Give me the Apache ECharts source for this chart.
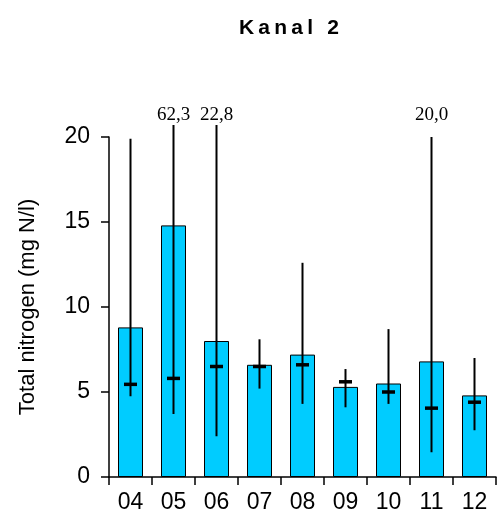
<!DOCTYPE html>
<html>
<head>
<meta charset="utf-8">
<script src="https://cdn.jsdelivr.net/npm/echarts@6/dist/echarts.min.js"></script>
<style>html,body{margin:0;padding:0;background:#fff;}#c{width:501px;height:520px;}</style>
</head>
<body>
<div id="c"></div>
<script>
// Data
const categories = ['04', '05', '06', '07', '08', '09', '10', '11', '12'];
const means      = [8.8, 14.8, 8.0, 6.6, 7.2, 5.3, 5.5, 6.8, 4.8];
const medians    = [5.45, 5.8, 6.5, 6.5, 6.6, 5.6, 5.0, 4.05, 4.4];
const mins       = [4.75, 3.7, 2.4, 5.2, 4.3, 4.1, 4.3, 1.45, 2.75];
const maxs       = [19.9, 62.3, 22.8, 8.1, 12.6, 6.35, 8.7, 20.0, 7.0];
const yTicks     = [0, 5, 10, 15, 20];

const yMin = yTicks[0], yMax = yTicks[yTicks.length - 1];
const whiskerCap = 20.7;   // whiskers of off-scale values are cut here
const labelLevel = 21.3;   // level of the off-scale value labels

const fmt = v => v.toFixed(1).replace('.', ',');
const sans = 'Liberation Sans, Arial';

const chart = echarts.init(document.getElementById('c'), null, {renderer: 'canvas'});
chart.setOption({
  animation: false,
  backgroundColor: '#fff',
  title: {
    text: 'K\u2009a\u2009n\u2009a\u2009l\u2009 \u20092',
    left: 234, top: 13,
    textStyle: {fontFamily: sans, fontSize: 21, fontWeight: 'bold', color: '#000'}
  },
  grid: {left: 109, right: 5, top: 137, bottom: 43, containLabel: false, outerBoundsMode: 'none'},
  xAxis: {
    type: 'category',
    data: categories,
    axisLine: {lineStyle: {color: '#000', width: 1.5}},
    axisTick: {show: true, length: 8, lineStyle: {color: '#000', width: 1.5}},
    axisLabel: {color: '#000', fontFamily: sans, fontSize: 23, margin: 14}
  },
  yAxis: {
    type: 'value',
    min: yMin, max: yMax, interval: 5,
    name: 'Total nitrogen (mg N/l)',
    nameLocation: 'middle',
    nameGap: 70,
    nameTextStyle: {color: '#000', fontFamily: sans, fontSize: 22},
    axisLine: {show: true, lineStyle: {color: '#000', width: 1.5}},
    axisTick: {show: true, length: 8, lineStyle: {color: '#000', width: 1.5}},
    splitLine: {show: false},
    axisLabel: {color: '#000', fontFamily: sans, fontSize: 23, margin: 19}
  },
  series: [
    {
      type: 'bar',
      data: means,
      barWidth: 25,
      itemStyle: {color: '#00CCFF', borderColor: '#000', borderWidth: 1}
    },
    {
      type: 'custom',
      clip: false,
      z: 5,
      encode: {x: 0, y: [1, 2, 3]},
      data: categories.map((c, i) => [i, mins[i], medians[i], maxs[i]]),
      renderItem: function (params, api) {
        const i = api.value(0);
        const lo = api.value(1), med = api.value(2), hi = api.value(3);
        const top = Math.min(hi, whiskerCap);
        const pLo = api.coord([i, lo]);
        const pHi = api.coord([i, top]);
        const pMed = api.coord([i, med]);
        const children = [
          {type: 'line', shape: {x1: pLo[0], y1: pLo[1], x2: pHi[0], y2: pHi[1]},
           style: {stroke: '#000', lineWidth: 2}},
          {type: 'line', shape: {x1: pMed[0] - 6.5, y1: pMed[1], x2: pMed[0] + 6.5, y2: pMed[1]},
           style: {stroke: '#000', lineWidth: 3.5}}
        ];
        if (hi >= yMax) {
          const pL = api.coord([i, labelLevel]);
          children.push({type: 'text', x: pL[0], y: pL[1],
            style: {text: fmt(hi), fill: '#000', font: '19px "Liberation Serif", "Times New Roman", serif',
                    align: 'center', verticalAlign: 'middle'}});
        }
        return {type: 'group', children: children};
      }
    }
  ]
});
</script>
</body>
</html>
